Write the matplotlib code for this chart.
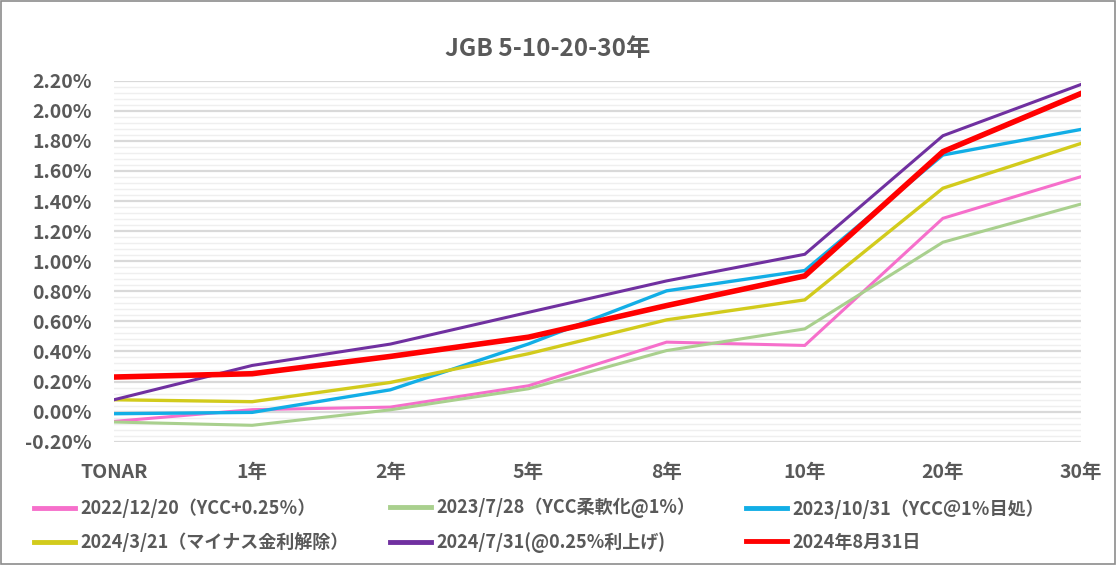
import matplotlib
matplotlib.use("Agg")
import matplotlib.pyplot as plt
from matplotlib.ticker import MultipleLocator, FuncFormatter
from matplotlib.patches import Rectangle

plt.rcParams['font.family'] = ['Noto Sans CJK JP', 'DejaVu Sans']

categories = ["TONAR", "1年", "2年", "5年", "8年", "10年", "20年", "30年"]

series_labels = [
    "2022/12/20（YCC+0.25％）",
    "2023/7/28（YCC柔軟化@1%）",
    "2023/10/31（YCC＠1％目処）",
    "2024/3/21（マイナス金利解除）",
    "2024/7/31(@0.25%利上げ)",
    "2024年8月31日",
]

s_2022_12_20 = [-0.065, 0.013, 0.03, 0.172, 0.462, 0.44, 1.285, 1.562]
s_2023_07_28 = [-0.069, -0.091, 0.012, 0.152, 0.406, 0.55, 1.126, 1.38]
s_2023_10_31 = [-0.014, -0.005, 0.145, 0.45, 0.803, 0.938, 1.706, 1.876]
s_2024_03_21 = [0.079, 0.066, 0.194, 0.385, 0.61, 0.743, 1.485, 1.783]
s_2024_07_31 = [0.079, 0.307, 0.449, 0.66, 0.869, 1.046, 1.834, 2.175]
s_2024_08_31 = [0.23, 0.252, 0.367, 0.495, 0.705, 0.902, 1.728, 2.115]

series_values = [s_2022_12_20, s_2023_07_28, s_2023_10_31,
                 s_2024_03_21, s_2024_07_31, s_2024_08_31]
colors = ["#f66fcb", "#a9d08e", "#12aee6", "#d2cb1c", "#7030a0", "#ff0000"]
widths = [2.2, 2.2, 2.4, 2.4, 2.2, 4.0]

fig = plt.figure(figsize=(11.17, 5.65), dpi=100)
fig.patch.set_facecolor("white")
fig.add_artist(Rectangle((0.0005, 0.001), 0.998, 0.997, transform=fig.transFigure,
                         fill=False, edgecolor="#8c8c8c", linewidth=1.2))

ax = fig.add_axes([0.1021, 0.2182, 0.8657, 0.639])
x = list(range(len(categories)))
handles = []
for vals, lab, c, w in zip(series_values, series_labels, colors, widths):
    h, = ax.plot(x, vals, color=c, linewidth=w, label=lab,
                 solid_joinstyle="miter", zorder=3)
    handles.append(h)

ax.set_xlim(0, len(categories) - 1)
ax.set_ylim(-0.2, 2.2)
ax.yaxis.set_major_locator(MultipleLocator(0.2))
ax.yaxis.set_minor_locator(MultipleLocator(0.04))
ax.yaxis.set_major_formatter(FuncFormatter(lambda v, p: f"{v:.2f}%"))
ax.grid(axis="y", which="major", color="#d9d9d9", linewidth=1.6, zorder=0)
ax.grid(axis="y", which="minor", color="#efefef", linewidth=1.0, zorder=0)
ax.set_xticks(x)
ax.set_xticklabels(categories)
for s in ax.spines.values():
    s.set_visible(False)
ax.tick_params(axis="both", which="both", length=0)
ax.tick_params(axis="y", pad=16, labelsize=14, labelcolor="#595959")
ax.tick_params(axis="x", pad=15, labelsize=14, labelcolor="#595959")
for t in ax.get_yticklabels() + ax.get_xticklabels():
    t.set_fontweight("bold")

fig.text(0.49, 0.913, "JGB 5-10-20-30年", ha="center", va="center",
         fontsize=17.5, fontweight="bold", color="#595959")

col_x = [34 / 1117, 390 / 1117, 746 / 1117]
for ci in range(3):
    hs = [handles[ci], handles[ci + 3]]
    labs = [series_labels[ci], series_labels[ci + 3]]
    leg = fig.legend(handles=hs, labels=labs, ncol=1,
                     loc="center left", bbox_to_anchor=(col_x[ci], 0.0699),
                     frameon=False, handlelength=2.25, handletextpad=0.3,
                     borderpad=0, borderaxespad=0, labelspacing=0.78,
                     prop={"family": ["Noto Sans CJK JP", "DejaVu Sans"],
                           "weight": "bold", "size": 13})
    for t in leg.get_texts():
        t.set_color("#595959")
    for lh in leg.get_lines():
        lh.set_linewidth(3.5)

fig.savefig("out.png", dpi=100, facecolor="white")
